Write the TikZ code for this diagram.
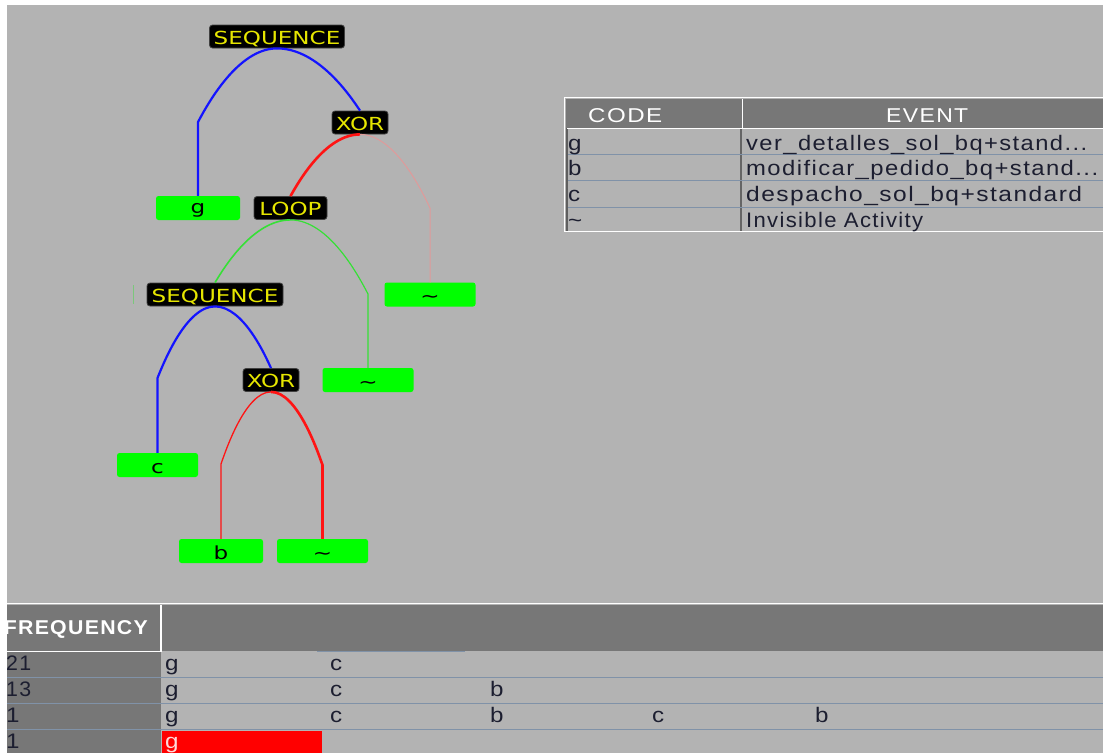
\documentclass[tikz,border=0pt]{standalone}
\usepackage{fontspec}
\usepackage{graphicx}
\setmainfont{Liberation Sans}
\newfontfamily\treefont{DejaVu Sans}
\newfontfamily\gridfont[LetterSpace=6]{Liberation Sans}

\definecolor{panel}{HTML}{B3B3B3}
\definecolor{headgray}{HTML}{777777}
\definecolor{rowrule}{HTML}{8092A8}
\definecolor{ink}{HTML}{1C1E30}
\definecolor{leafgreen}{HTML}{00FF00}
\definecolor{opyellow}{HTML}{E6E600}
\definecolor{seqblue}{HTML}{1414FF}
\definecolor{xorred}{HTML}{FF1414}
\definecolor{softred}{HTML}{E09A9A}
\definecolor{loopgreen}{HTML}{36E036}
\definecolor{hitred}{HTML}{FF0000}

% widened glyphs for tree labels and single table letters
\newcommand\optxt[1]{\scalebox{1.28}[1]{#1}}
\newcommand\celltxt[1]{\scalebox{1.15}[1]{#1}}
% text stretched to a given width, height kept
\newcommand\fitto[2]{\resizebox{#1}{\height}{#2}}

\tikzset{
  opnode/.style={fill=black, draw=black!75, line width=0.8pt, rounded corners=3pt,
    text=opyellow, font=\treefont\fontsize{18}{18}\selectfont, inner sep=0pt,
    minimum height=23pt, text height=16pt, text depth=1pt},
  leafnode/.style={fill=leafgreen, rounded corners=2.5pt, text=black,
    font=\treefont\fontsize{18}{18}\selectfont, inner sep=0pt,
    minimum height=24pt, text height=17pt, text depth=1pt},
  seqedge/.style={seqblue, line width=2.2pt},
  xorthick/.style={xorred, line width=2.6pt},
  xorthin/.style={xorred, line width=1.3pt},
  xorsoft/.style={softred, line width=1pt},
  loopthick/.style={loopgreen, line width=1.6pt},
  loopthin/.style={loopgreen, line width=1.2pt},
  gridtxt/.style={inner sep=0pt, text=ink, font=\gridfont\fontsize{21}{22}\selectfont},
  headtxt/.style={inner sep=0pt, text=white, font=\gridfont\fontsize{20}{21}\selectfont},
  whiteline/.style={white, line width=1.5pt},
  ruleline/.style={rowrule, line width=1.5pt},
}

\begin{document}
\begin{tikzpicture}[x=1pt,y=1pt]
\useasboundingbox (0,0) rectangle (1103,-753);
\fill[white] (0,0) rectangle (1103,-753);
\fill[panel] (7,-5) rectangle (1103,-753);

\begin{scope}
\clip (7,-5) rectangle (1103,-753);

% ---------------- process tree ----------------
\node[opnode, minimum width=135pt] (seqA) at (277,-36.5) {\optxt{SEQUENCE}};
\node[opnode, minimum width=56pt]  (xorA) at (360,-122.5) {\optxt{XOR}};
\node[leafnode, minimum width=84pt, text height=14pt, text depth=4pt] (g) at (198,-208) {\optxt{g}};
\node[opnode, minimum width=73pt]  (loop) at (290.5,-208) {\optxt{LOOP}};
\node[leafnode, minimum width=91pt] (tA) at (430,-294.5) {\optxt{\char`\~}};
\node[opnode, minimum width=136pt] (seqB) at (215,-294.5) {\optxt{SEQUENCE}};
\node[leafnode, minimum width=91pt] (tB) at (368,-380) {\optxt{\char`\~}};
\node[opnode, minimum width=56pt]  (xorB) at (271,-380) {\optxt{XOR}};
\node[leafnode, minimum width=81pt] (c) at (157.5,-465) {\optxt{c}};
\node[leafnode, minimum width=84pt] (b) at (221,-551) {\optxt{b}};
\node[leafnode, minimum width=91pt] (tC) at (322.5,-551) {\optxt{\char`\~}};

% knees where the arcs turn into vertical drops
\coordinate (kg)  at (198,-122);
\coordinate (ktA) at (430,-208);
\coordinate (ktB) at (368,-294);
\coordinate (kc)  at (157.5,-378);
\coordinate (kb)  at (221,-464);
\coordinate (ktC) at (322.5,-465);

\draw[seqedge]   (seqA.south) parabola[bend at start] (kg) -- (g.north);
\draw[seqedge]   (seqA.south) parabola[bend at start] (xorA.north);
\draw[xorthick]  (xorA.south) parabola[bend at start] (loop.north);
\draw[xorsoft]   (xorA.south) parabola[bend at start] (ktA) -- (tA.north);
\draw[loopthick] (loop.south) parabola[bend at start] (seqB.north);
\draw[loopthin]  (loop.south) parabola[bend at start] (ktB) -- (tB.north);
\draw[seqedge]   (seqB.south) parabola[bend at start] (kc) -- (c.north);
\draw[seqedge]   (seqB.south) parabola[bend at start] (xorB.north);
\draw[xorthin]   (xorB.south) parabola[bend at start] (kb) -- (b.north);
\draw[xorthick]  (xorB.south) parabola[bend at start] (ktC) -- (tC.north);

% faint loop stub left of the inner sequence
\draw[loopgreen!45!panel, line width=1pt] (133,-285) -- (133,-304);

% ---------------- code / event legend ----------------
\fill[headgray] (566,-99) rectangle (1103,-128);
\draw[whiteline] (564,-97.5) -- (1103,-97.5);
\draw[whiteline] (564.5,-97) -- (564.5,-232);
\draw[headgray!80!black, line width=1.5pt] (567,-128) -- (567,-231);
\draw[white, line width=1pt] (567,-128.5) -- (1103,-128.5);
\draw[whiteline] (742.5,-99) -- (742.5,-128);
\draw[headgray!85!black, line width=2pt] (741,-129) -- (741,-231);
\draw[ruleline] (568,-154.5) -- (1103,-154.5);
\draw[ruleline] (568,-180.5) -- (1103,-180.5);
\draw[ruleline] (568,-207.5) -- (1103,-207.5);
\draw[whiteline] (564,-231.5) -- (1103,-231.5);

\node[headtxt, anchor=base west] (hcode)  at (588,-122) {\fitto{74pt}{CODE}};
\node[headtxt, anchor=base west] (hevent) at (886,-122) {\fitto{82pt}{EVENT}};
\node[gridtxt, anchor=base west] (c1) at (568,-150) {\celltxt{g}};
\node[gridtxt, anchor=base west] (c2) at (568,-175) {\celltxt{b}};
\node[gridtxt, anchor=base west] (c3) at (568,-201) {\celltxt{c}};
\node[gridtxt, anchor=base west] (c4) at (568,-227) {\celltxt{\char`\~}};
\node[gridtxt, anchor=base west] (e1) at (746,-150) {\fitto{341pt}{ver\_detalles\_sol\_bq+stand...}};
\node[gridtxt, anchor=base west] (e2) at (746,-175) {\fitto{352pt}{modificar\_pedido\_bq+stand...}};
\node[gridtxt, anchor=base west] (e3) at (746,-201) {\fitto{336pt}{despacho\_sol\_bq+standard}};
\node[gridtxt, anchor=base west] (e4) at (746,-227) {\fitto{177pt}{Invisible Activity}};

% ---------------- trace frequency table ----------------
\draw[whiteline] (7,-603.5) -- (1103,-603.5);
\fill[headgray] (7,-605) rectangle (1103,-651);
\fill[headgray] (7,-652) rectangle (161,-753);
\draw[whiteline] (161,-605) -- (161,-652);
\draw[whiteline] (7,-651.5) -- (161,-651.5);
\draw[rowrule, line width=1pt] (317,-651.5) -- (465,-651.5);
\draw[ruleline] (7,-677.5) -- (1103,-677.5);
\draw[ruleline] (7,-703.5) -- (1103,-703.5);
\draw[ruleline] (7,-729.5) -- (1103,-729.5);
\fill[hitred] (162,-730.5) rectangle (322,-753);

\node[headtxt, anchor=base east, font=\gridfont\bfseries\fontsize{20}{21}\selectfont] (hfreq) at (148,-634) {\fitto{144pt}{FREQUENCY}};
\node[gridtxt, anchor=base west] (f1) at (6,-670) {\fitto{25pt}{21}};
\node[gridtxt, anchor=base west] (f2) at (6,-696) {\fitto{25pt}{13}};
\node[gridtxt, anchor=base west] (f3) at (6,-722) {\celltxt{1}};
\node[gridtxt, anchor=base west] (f4) at (6,-748) {\celltxt{1}};

\node[gridtxt, anchor=base west] (r1a) at (165,-670) {\celltxt{g}};
\node[gridtxt, anchor=base west] (r1b) at (330,-670) {\celltxt{c}};
\node[gridtxt, anchor=base west] (r2a) at (165,-696) {\celltxt{g}};
\node[gridtxt, anchor=base west] (r2b) at (330,-696) {\celltxt{c}};
\node[gridtxt, anchor=base west] (r2c) at (490,-696) {\celltxt{b}};
\node[gridtxt, anchor=base west] (r3a) at (165,-722) {\celltxt{g}};
\node[gridtxt, anchor=base west] (r3b) at (330,-722) {\celltxt{c}};
\node[gridtxt, anchor=base west] (r3c) at (490,-722) {\celltxt{b}};
\node[gridtxt, anchor=base west] (r3d) at (652,-722) {\celltxt{c}};
\node[gridtxt, anchor=base west] (r3e) at (815,-722) {\celltxt{b}};
\node[gridtxt, anchor=base west, text=red!15!white] (r4a) at (165,-748) {\celltxt{g}};
\end{scope}
\end{tikzpicture}
\end{document}
